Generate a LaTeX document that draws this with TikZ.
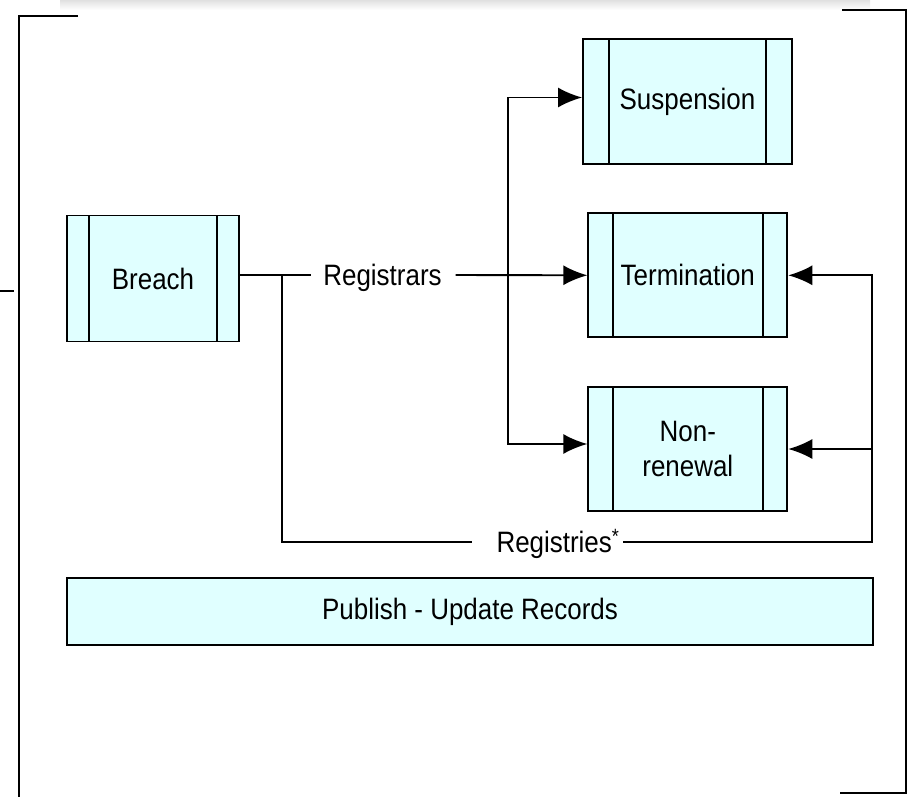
\documentclass[tikz,border=0pt]{standalone}
\usepackage{fontspec}
\setmainfont{Liberation Sans}[FakeStretch=0.88]
\usepackage{tikz}
\usetikzlibrary{arrows.meta}
\definecolor{boxfill}{RGB}{224,255,255}

\begin{document}
\begin{tikzpicture}[x=1pt, y=-1pt, line width=1.9pt,
	font=\fontsize{29.5}{35}\selectfont,
	proc/.style={draw, fill=boxfill, inner sep=0pt, align=center,
		path picture={
			\draw ([xshift=#1]path picture bounding box.north west) -- ([xshift=#1]path picture bounding box.south west);
			\draw ([xshift=-#1]path picture bounding box.north east) -- ([xshift=-#1]path picture bounding box.south east);
		}},
	lbl/.style={inner xsep=0pt, text height=21pt, text depth=0pt},
	arr/.style={-{Latex[length=24pt, width=20pt]}}]
	
	\useasboundingbox (0,0) rectangle (909,797);
	\shade[top color=black!12, bottom color=white] (60,0) rectangle (870,10);
	\draw[line width=2.4pt] (78,16) -- (19,16) -- (19,797);
	\draw[line width=2.4pt] (842,10) -- (906,10) -- (906,793) -- (840,793);
	\draw (0,291) -- (14,291);
	
	\node [proc=22pt, minimum width=172pt, minimum height=126pt] (breach) at (153,278.5) {Breach};
	\node [proc=26pt, minimum width=209pt, minimum height=125pt] (susp) at (687.5,101.5) {Suspension};
	\node [proc=24.5pt, minimum width=199pt, minimum height=124pt] (term) at (687.8,275.3) {Termination};
	\node [proc=24.5pt, minimum width=199pt, minimum height=124pt] (nonren) at (687.8,449) {Non-\\renewal};
	\node [draw, fill=boxfill, minimum width=806pt, minimum height=67pt] (publish) at (470,611.5) {Publish - Update Records};
	
	\node [lbl] (regr) at (382.5,275) {Registrars};
	\node [lbl] (regs) at (558,542) {Registries\textsuperscript{*}};
	\coordinate (fork) at (282,275);
	\coordinate (split) at (508,275);
	\coordinate (rtop) at (872,275.3);
	
	\draw (breach.east |- regr) -- ([xshift=-11pt]regr.west);
	\draw[arr] ([xshift=13pt]regr.east) -- (term.west);
	\draw[arr] (split) |- ([yshift=4pt]susp.west);
	\draw[arr] (split) |- ([yshift=5pt]nonren.west);
	\draw (fork) |- ([xshift=-24pt]regs.west);
	\draw[arr] ([xshift=3pt]regs.east) -| (rtop) -- (term.east);
	\draw[arr] (rtop |- nonren.east) -- (nonren.east);
\end{tikzpicture}
\end{document}
